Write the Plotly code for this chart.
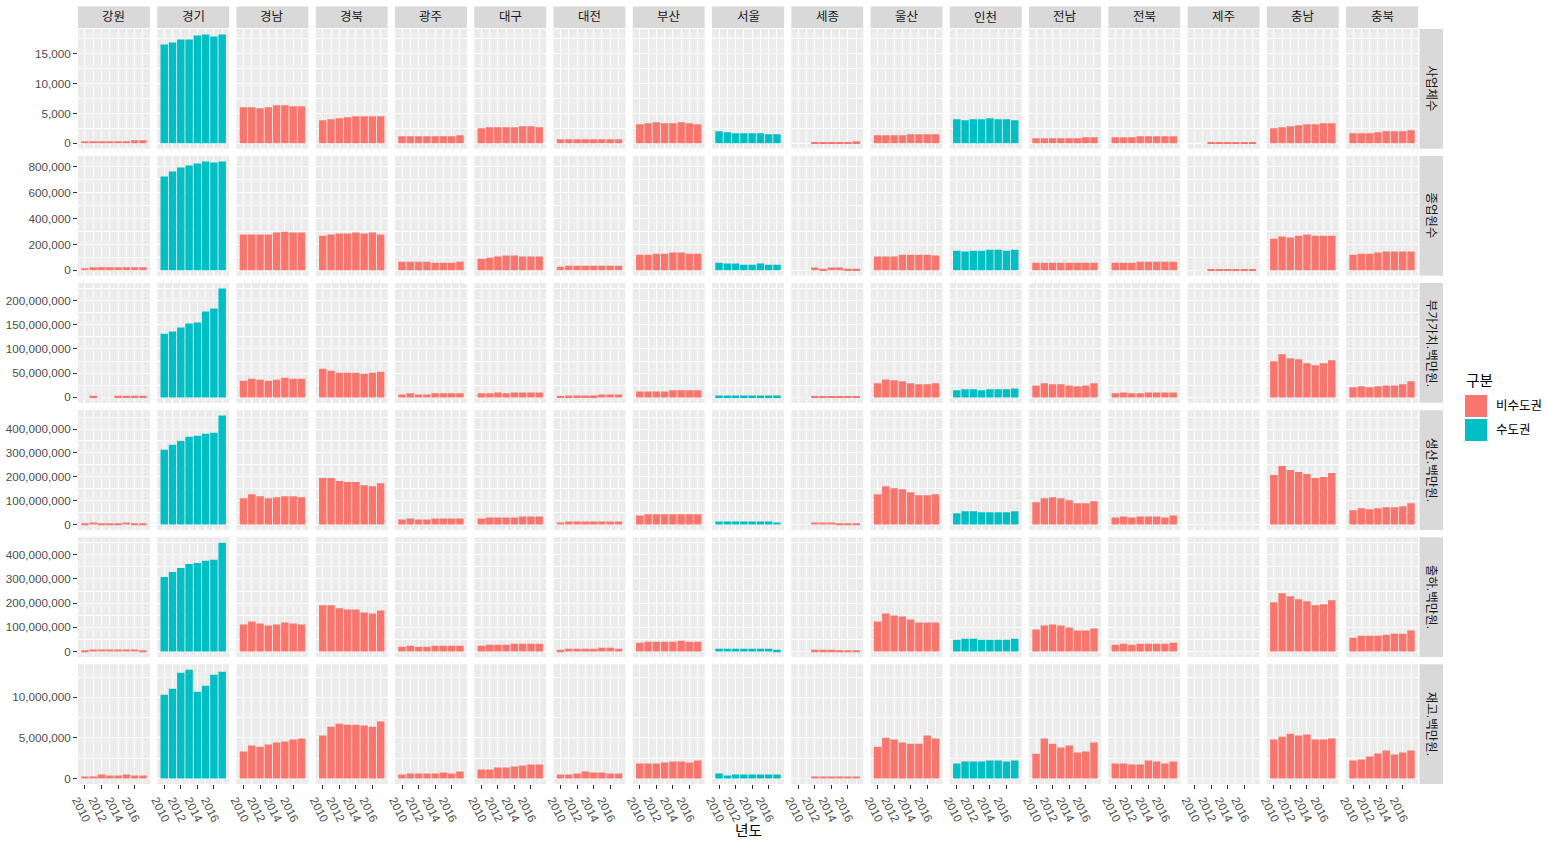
import plotly.graph_objects as go

# ---------------- data ----------------
years = [2010, 2011, 2012, 2013, 2014, 2015, 2016, 2017]
regions = ["강원", "경기", "경남", "경북", "광주", "대구", "대전", "부산", "서울",
           "세종", "울산", "인천", "전남", "전북", "제주", "충남", "충북"]
metro_regions = ["경기", "서울", "인천"]
group_labels = ["비수도권", "수도권"]
metric_labels = ["사업체수", "종업원수", "부가가치.백만원.", "생산.백만원.", "출하.백만원.", "재고.백만원."]
N = None

# 사업체수 (count)
establishments = {
    "강원": [340, 340, 340, 340, 340, 340, 500, 500],
    "경기": [16560, 16900, 17400, 17400, 18070, 18230, 17900, 18230],
    "경남": [6020, 6020, 5860, 6020, 6360, 6360, 6190, 6190],
    "경북": [3850, 4020, 4180, 4350, 4520, 4520, 4520, 4520],
    "광주": [1170, 1170, 1170, 1170, 1170, 1170, 1170, 1340],
    "대구": [2510, 2680, 2680, 2680, 2680, 2840, 2840, 2680],
    "대전": [670, 670, 670, 670, 670, 670, 670, 670],
    "부산": [3180, 3350, 3510, 3350, 3350, 3510, 3350, 3180],
    "서울": [2010, 1840, 1670, 1670, 1670, 1670, 1510, 1510],
    "세종": [N, N, 170, 170, 170, 170, 170, 330],
    "울산": [1340, 1340, 1340, 1340, 1510, 1510, 1510, 1510],
    "인천": [4020, 3850, 4020, 4020, 4180, 4020, 4020, 3850],
    "전남": [840, 840, 840, 840, 840, 840, 1000, 1000],
    "전북": [1000, 1000, 1000, 1170, 1170, 1170, 1170, 1170],
    "제주": [N, N, 170, 170, 170, 170, 170, 170],
    "충남": [2510, 2680, 2840, 3010, 3180, 3180, 3350, 3350],
    "충북": [1670, 1670, 1670, 1840, 2010, 2010, 2010, 2180],
}

# 종업원수 (count)
employees = {
    "강원": [15500, 23000, 23000, 23000, 23000, 23000, 23000, 23000],
    "경기": [725000, 764000, 795000, 810000, 826000, 841000, 834000, 841000],
    "경남": [276000, 276000, 276000, 276000, 292000, 299000, 292000, 292000],
    "경북": [268000, 276000, 284000, 284000, 292000, 284000, 292000, 276000],
    "광주": [67000, 67000, 67000, 67000, 59000, 59000, 59000, 67000],
    "대구": [90000, 98000, 106000, 114000, 114000, 106000, 106000, 106000],
    "대전": [28000, 36000, 36000, 36000, 36000, 36000, 36000, 36000],
    "부산": [121000, 121000, 129000, 129000, 137000, 137000, 129000, 129000],
    "서울": [59000, 52000, 52000, 44000, 44000, 52000, 44000, 44000],
    "세종": [N, N, 21000, 13000, 21000, 21000, 13000, 13000],
    "울산": [106000, 106000, 106000, 121000, 121000, 121000, 121000, 114000],
    "인천": [152000, 145000, 152000, 152000, 160000, 160000, 152000, 160000],
    "전남": [59000, 59000, 59000, 59000, 59000, 59000, 59000, 59000],
    "전북": [59000, 59000, 59000, 67000, 67000, 67000, 67000, 67000],
    "제주": [N, N, 5000, 5000, 5000, 5000, 5000, 5000],
    "충남": [245000, 261000, 253000, 268000, 276000, 268000, 268000, 268000],
    "충북": [121000, 129000, 129000, 137000, 145000, 145000, 145000, 145000],
}

# values below in millions of 백만원
value_added_m = {
    "강원": [N, 3.4, N, N, 3.4, 3.4, 3.4, 3.4],
    "경기": [131.7, 135.9, 144.1, 152.4, 154.5, 177.2, 183.4, 224.8],
    "경남": [34.5, 38.6, 36.6, 34.5, 36.6, 40.7, 38.6, 38.6],
    "경북": [59.3, 55.2, 51.0, 51.0, 51.0, 49.0, 51.0, 53.1],
    "광주": [6.2, 8.3, 6.2, 6.2, 8.3, 8.3, 8.3, 8.3],
    "대구": [8.3, 8.3, 10.3, 8.3, 10.3, 10.3, 10.3, 10.3],
    "대전": [2.1, 4.1, 4.1, 4.1, 4.1, 6.2, 6.2, 6.2],
    "부산": [12.4, 12.4, 12.4, 12.4, 14.5, 14.5, 14.5, 14.5],
    "서울": [4.1, 4.1, 4.1, 4.1, 4.1, 4.1, 4.1, 4.1],
    "세종": [N, N, 2.1, 2.1, 2.1, 2.1, 2.1, 2.1],
    "울산": [29.0, 37.2, 35.2, 33.1, 29.0, 26.9, 26.9, 29.0],
    "인천": [14.5, 16.6, 16.6, 14.5, 16.6, 16.6, 16.6, 18.6],
    "전남": [24.8, 29.0, 26.9, 26.9, 24.8, 22.8, 24.8, 29.0],
    "전북": [8.3, 10.3, 8.3, 8.3, 10.3, 10.3, 10.3, 10.3],
    "제주": [N, N, N, N, N, N, N, N],
    "충남": [74.5, 89.0, 80.7, 78.6, 70.3, 66.2, 70.3, 76.6],
    "충북": [20.7, 22.8, 20.7, 22.8, 24.8, 24.8, 26.9, 33.1],
}

production_m = {
    "강원": [4.2, 8.5, 4.2, 4.2, 4.2, 8.5, 4.2, 4.2],
    "경기": [312.7, 333.8, 350.7, 367.6, 371.8, 380.3, 384.5, 456.3],
    "경남": [109.9, 126.8, 118.3, 109.9, 114.1, 118.3, 118.3, 114.1],
    "경북": [194.4, 194.4, 181.7, 177.5, 177.5, 164.8, 160.6, 173.2],
    "광주": [21.1, 25.4, 21.1, 21.1, 25.4, 25.4, 25.4, 25.4],
    "대구": [25.4, 29.6, 29.6, 29.6, 29.6, 33.8, 33.8, 33.8],
    "대전": [8.5, 12.7, 12.7, 12.7, 12.7, 12.7, 12.7, 12.7],
    "부산": [38.0, 42.3, 42.3, 42.3, 42.3, 42.3, 42.3, 42.3],
    "서울": [12.7, 12.7, 12.7, 12.7, 12.7, 12.7, 12.7, 8.5],
    "세종": [N, N, 8.5, 8.5, 8.5, 4.2, 4.2, 4.2],
    "울산": [126.8, 160.6, 152.1, 147.9, 135.2, 122.5, 122.5, 126.8],
    "인천": [46.5, 54.9, 54.9, 50.7, 50.7, 50.7, 50.7, 54.9],
    "전남": [93.0, 109.9, 114.1, 109.9, 101.4, 88.7, 88.7, 97.2],
    "전북": [29.6, 33.8, 29.6, 33.8, 33.8, 33.8, 29.6, 38.0],
    "제주": [N, N, N, N, N, N, N, N],
    "충남": [207.0, 245.1, 228.2, 219.7, 211.3, 194.4, 198.6, 215.5],
    "충북": [59.2, 67.6, 63.4, 67.6, 71.8, 71.8, 76.1, 88.7],
}

shipments_m = {
    "강원": [4.2, 8.4, 8.4, 8.4, 8.4, 8.4, 8.4, 4.2],
    "경기": [308.0, 328.9, 345.6, 362.4, 366.5, 374.9, 379.1, 450.2],
    "경남": [111.5, 124.0, 115.7, 107.3, 111.5, 119.9, 115.7, 111.5],
    "경북": [190.9, 190.9, 178.4, 174.2, 174.2, 161.7, 157.5, 170.0],
    "광주": [19.5, 23.7, 19.5, 19.5, 23.7, 23.7, 23.7, 23.7],
    "대구": [23.7, 27.9, 27.9, 27.9, 32.1, 32.1, 32.1, 32.1],
    "대전": [7.0, 11.1, 11.1, 11.1, 11.1, 15.3, 15.3, 11.1],
    "부산": [36.2, 40.4, 40.4, 40.4, 40.4, 44.6, 40.4, 40.4],
    "서울": [11.1, 11.1, 11.1, 11.1, 11.1, 11.1, 11.1, 7.0],
    "세종": [N, N, 7.0, 7.0, 7.0, 2.8, 2.8, 2.8],
    "울산": [124.0, 157.5, 149.1, 144.9, 132.4, 119.9, 119.9, 119.9],
    "인천": [48.8, 53.0, 53.0, 48.8, 48.8, 48.8, 48.8, 53.0],
    "전남": [90.6, 107.3, 111.5, 107.3, 99.0, 86.4, 86.4, 94.8],
    "전북": [27.9, 32.1, 27.9, 32.1, 32.1, 32.1, 32.1, 36.2],
    "제주": [N, N, N, N, N, N, N, N],
    "충남": [203.5, 241.1, 228.6, 216.0, 207.7, 190.9, 195.1, 211.8],
    "충북": [57.1, 65.5, 65.5, 65.5, 69.7, 73.9, 73.9, 86.4],
}

inventory_m = {
    "강원": [0.246, 0.246, 0.492, 0.369, 0.369, 0.492, 0.369, 0.369],
    "경기": [10.33, 11.07, 13.03, 13.40, 10.70, 11.43, 12.79, 13.16],
    "경남": [3.32, 4.06, 3.93, 4.18, 4.43, 4.55, 4.80, 4.92],
    "경북": [5.29, 6.39, 6.76, 6.64, 6.64, 6.52, 6.39, 7.01],
    "광주": [0.492, 0.615, 0.615, 0.615, 0.615, 0.738, 0.615, 0.861],
    "대구": [1.107, 1.107, 1.352, 1.352, 1.475, 1.598, 1.721, 1.721],
    "대전": [0.492, 0.492, 0.615, 0.861, 0.738, 0.738, 0.615, 0.615],
    "부산": [1.844, 1.844, 1.844, 1.967, 2.090, 2.090, 1.967, 2.213],
    "서울": [0.615, 0.369, 0.492, 0.492, 0.492, 0.492, 0.492, 0.492],
    "세종": [N, N, 0.246, 0.246, 0.246, 0.246, 0.246, 0.246],
    "울산": [3.93, 5.04, 4.80, 4.43, 4.30, 4.30, 5.29, 4.92],
    "인천": [1.844, 2.090, 2.090, 2.090, 2.213, 2.213, 2.090, 2.213],
    "전남": [3.07, 4.92, 4.30, 3.81, 4.06, 3.20, 3.32, 4.43],
    "전북": [1.844, 1.844, 1.721, 1.721, 2.213, 2.090, 1.844, 2.090],
    "제주": [N, N, N, N, N, N, N, N],
    "충남": [4.80, 5.16, 5.53, 5.29, 5.41, 4.80, 4.80, 4.92],
    "충북": [2.213, 2.336, 2.705, 3.074, 3.443, 2.951, 3.197, 3.443],
}

metric_data = [establishments, employees, value_added_m, production_m, shipments_m, inventory_m]
metric_scale = [1, 1, 1e6, 1e6, 1e6, 1e6]
y_major = [
    [0, 5000, 10000, 15000],
    [0, 200000, 400000, 600000, 800000],
    [0, 50e6, 100e6, 150e6, 200e6],
    [0, 100e6, 200e6, 300e6, 400e6],
    [0, 100e6, 200e6, 300e6, 400e6],
    [0, 5e6, 10e6],
]
x_major = [2010, 2012, 2014, 2016]

# ---------------- style / layout ----------------
W, H = 1547, 842
L, R, T, B = 78, 1418, 29, 784
GAP = 7.33
NC, NR = len(regions), len(metric_labels)
PW = (R - L - GAP * (NC - 1)) / NC
PH = (B - T - GAP * (NR - 1)) / NR
COL_OTHER, COL_METRO = "#F8766D", "#00BFC4"
FONT = "Liberation Sans, Arial, Noto Sans CJK KR, sans-serif"
TICKC = "#4D4D4D"


def fx(x):
    return x / W


def fy(y):
    return 1 - y / H


fig = go.Figure()
lay = {}
shapes, annos = [], []
XR = [2009.155, 2017.845]
x_minor = [y + 1 for y in x_major]

for r in range(NR):
    data = metric_data[r]
    sc = metric_scale[r]
    allv = [v * sc for reg in regions for v in data[reg] if v is not None]
    ymax = max(allv)
    yr = [-0.05 * ymax, 1.05 * ymax]
    majors = y_major[r]
    step = majors[1] - majors[0]
    minors = [m + step / 2 for m in majors] + [majors[0] - step / 2]
    top = T + r * (PH + GAP)
    bot = top + PH
    for c, reg in enumerate(regions):
        k = r * NC + c + 1
        sfx = "" if k == 1 else str(k)
        left = L + c * (PW + GAP)
        right = left + PW
        color = COL_METRO if reg in metro_regions else COL_OTHER
        yv = [v * sc if v is not None else None for v in data[reg]]
        fig.add_trace(go.Bar(
            x=years, y=yv, width=0.9, marker=dict(color=color, line=dict(width=0)),
            xaxis="x" + sfx, yaxis="y" + sfx, showlegend=False,
            name=reg, hovertemplate=reg + " %{x}: %{y:,}<extra></extra>"))
        bottom_row = (r == NR - 1)
        first_col = (c == 0)
        lay["xaxis" + sfx] = dict(
            domain=[fx(left), fx(right)], anchor="y" + sfx, range=XR, automargin=False,
            tickmode="array", tickvals=x_major, ticktext=[str(v) for v in x_major],
            showticklabels=bottom_row, ticks="outside" if bottom_row else "",
            ticklen=4, tickwidth=1, tickcolor="#333333", tickangle=63,
            ticklabelshift=-8,
            tickfont=dict(family=FONT, size=11.7, color=TICKC),
            showgrid=True, gridcolor="white", gridwidth=1.3,
            minor=dict(tickmode="array", tickvals=x_minor, showgrid=True,
                       gridcolor="white", gridwidth=0.7, ticks=""),
            zeroline=False, showline=False, fixedrange=True)
        lay["yaxis" + sfx] = dict(
            domain=[fy(bot), fy(top)], anchor="x" + sfx, range=yr, automargin=False,
            tickmode="array", tickvals=majors, tickformat=",d",
            showticklabels=first_col, ticks="outside" if first_col else "",
            ticklen=4, tickwidth=1, tickcolor="#333333",
            tickfont=dict(family=FONT, size=11.7, color=TICKC),
            showgrid=True, gridcolor="white", gridwidth=1.3,
            minor=dict(tickmode="array", tickvals=minors, showgrid=True,
                       gridcolor="white", gridwidth=0.7, ticks=""),
            zeroline=False, showline=False, fixedrange=True)
        if r == 0:
            shapes.append(dict(type="rect", xref="paper", yref="paper",
                               x0=fx(left), x1=fx(right), y0=fy(28), y1=fy(6.5),
                               fillcolor="#D9D9D9", line=dict(width=0), layer="below"))
            annos.append(dict(text=reg, xref="paper", yref="paper", x=fx((left + right) / 2),
                              y=fy(17.3), showarrow=False, xanchor="center", yanchor="middle",
                              font=dict(family=FONT, size=12.5, color="#1A1A1A")))
    # right strip
    shapes.append(dict(type="rect", xref="paper", yref="paper",
                       x0=fx(1419.5), x1=fx(1443), y0=fy(bot), y1=fy(top),
                       fillcolor="#D9D9D9", line=dict(width=0), layer="below"))
    annos.append(dict(text=metric_labels[r], xref="paper", yref="paper", x=fx(1431.3),
                      y=fy((top + bot) / 2), showarrow=False, textangle=90,
                      xanchor="center", yanchor="middle",
                      font=dict(family=FONT, size=12.5, color="#1A1A1A")))

# axis title
annos.append(dict(text="년도", xref="paper", yref="paper", x=fx((L + R) / 2), y=fy(830.5),
                  showarrow=False, xanchor="center", yanchor="middle",
                  font=dict(family=FONT, size=14.7, color="black")))

# legend (manual)
annos.append(dict(text="구분", xref="paper", yref="paper", x=fx(1464), y=fy(381),
                  showarrow=False, xanchor="left", yanchor="middle",
                  font=dict(family=FONT, size=14.7, color="black")))
for i, (lab, col) in enumerate(zip(group_labels, [COL_OTHER, COL_METRO])):
    y0 = 395 + i * 24
    shapes.append(dict(type="rect", xref="paper", yref="paper",
                       x0=fx(1465), x1=fx(1487), y0=fy(y0 + 22), y1=fy(y0),
                       fillcolor=col, line=dict(width=0)))
    annos.append(dict(text=lab, xref="paper", yref="paper", x=fx(1494), y=fy(y0 + 11),
                      showarrow=False, xanchor="left", yanchor="middle",
                      font=dict(family=FONT, size=12.5, color="black")))

fig.update_layout(
    width=W, height=H, autosize=False,
    margin=dict(l=0, r=0, t=0, b=0, autoexpand=False),
    paper_bgcolor="white", plot_bgcolor="#EBEBEB",
    showlegend=False, shapes=shapes, annotations=annos,
    font=dict(family=FONT), **lay)

# remove the default 8px page margin so the 1547x842 figure fills the window exactly
fig.write_html("out.html",
               config={"displayModeBar": False},
               post_script="document.body.style.margin='0';document.body.style.overflow='hidden';")
